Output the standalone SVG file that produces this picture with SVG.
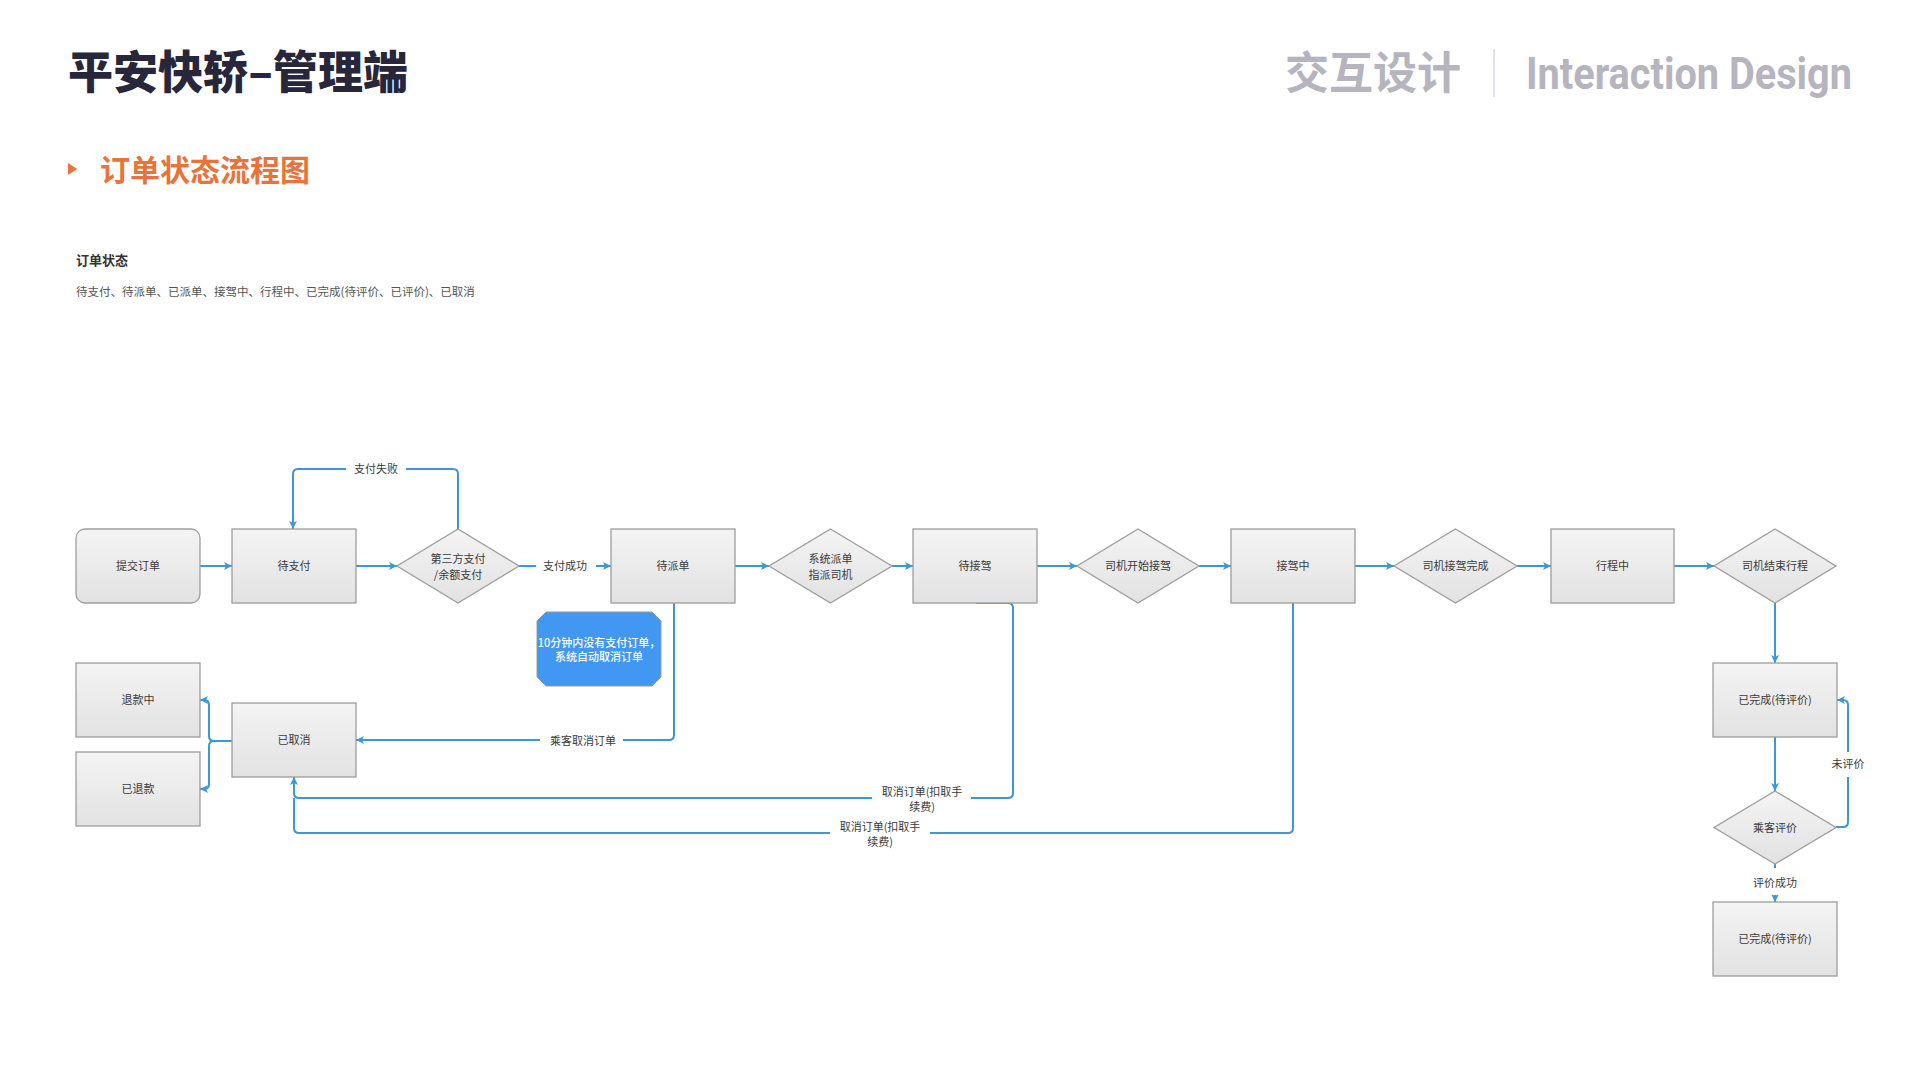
<svg xmlns="http://www.w3.org/2000/svg" width="1920" height="1080" viewBox="0 0 1920 1080">
  <defs>
    <linearGradient id="boxFill" x1="0" y1="0" x2="0" y2="1">
      <stop offset="0" stop-color="#f4f4f4"/>
      <stop offset="1" stop-color="#e2e2e2"/>
    </linearGradient>
    <marker id="arr" viewBox="0 0 10 10" refX="10" refY="5" markerWidth="8" markerHeight="11" markerUnits="userSpaceOnUse" orient="auto">
      <path d="M0,0 L10,5 L0,10 L2.5,5 z" fill="#3d97d3"/>
    </marker>
    <style>
      .cjk { font-family: "Noto Sans CJK SC", "Noto Sans", sans-serif; }
      .box { fill: url(#boxFill); stroke: #9d9d9d; stroke-width: 1.3; }
      .lbl { font-family: "Noto Sans CJK SC", "Noto Sans", sans-serif; font-size: 11px; fill: #3a3a3a; text-anchor: middle; }
      .note { font-family: "Noto Sans CJK SC", "Noto Sans", sans-serif; font-size: 11px; fill: #ffffff; text-anchor: middle; font-weight: 500; }
      .edge { fill: none; stroke: #3d97d3; stroke-width: 2; }
      .arrow { marker-end: url(#arr); }
      .gap { fill: #ffffff; }
    </style>
  </defs>

  <rect width="1920" height="1080" fill="#ffffff"/>

  <!-- page header -->
  <g id="header">
    <text x="68" y="89" class="cjk" font-size="45" font-weight="900" fill="#27263b" textLength="340" lengthAdjust="spacingAndGlyphs">平安快轿–管理端</text>
    <text x="1285" y="89" class="cjk" font-size="44" font-weight="700" fill="#b5b4bf">交互设计</text>
    <line x1="1494" y1="49" x2="1494" y2="97" stroke="#e2e2e8" stroke-width="2"/>
    <text x="1526" y="89" font-family="Roboto, 'Liberation Sans', sans-serif" font-size="45" font-weight="700" fill="#b5b4bf" textLength="326" lengthAdjust="spacingAndGlyphs">Interaction Design</text>
    <polygon points="68,163 77,169 68,175" fill="#e8743b"/>
    <text x="100" y="181" class="cjk" font-size="30" font-weight="700" fill="#e8743b">订单状态流程图</text>
    <text x="76" y="265" class="cjk" font-size="13" font-weight="700" fill="#333333">订单状态</text>
    <text x="76" y="296" class="cjk" font-size="11.5" fill="#555555">待支付、待派单、已派单、接驾中、行程中、已完成(待评价、已评价)、已取消</text>
  </g>

  <!-- connectors -->
  <g id="connectors">
    <path class="edge arrow" d="M200,566 H232"/>
    <path class="edge arrow" d="M356,566 H397"/>
    <path class="edge arrow" d="M519,566 H611"/>
    <path class="edge arrow" d="M735,566 H769"/>
    <path class="edge arrow" d="M892,566 H913"/>
    <path class="edge arrow" d="M1037,566 H1077"/>
    <path class="edge arrow" d="M1199,566 H1231"/>
    <path class="edge arrow" d="M1355,566 H1394"/>
    <path class="edge arrow" d="M1517,566 H1551"/>
    <path class="edge arrow" d="M1674,566 H1714"/>
    <path class="edge arrow" d="M1775,603 V663"/>
    <path class="edge arrow" d="M1775,737 V791"/>
    <path class="edge arrow" d="M1775,864 V902"/>
    <!-- payment failed loop -->
    <path class="edge arrow" d="M458,530 V474 Q458,469 453,469 H298 Q293,469 293,474 V529"/>
    <!-- not rated loop -->
    <path class="edge arrow" d="M1836,827 H1843 Q1848,827 1848,822 V705 Q1848,700 1843,700 H1837"/>
    <!-- passenger cancels while waiting for dispatch -->
    <path class="edge arrow" d="M674,603 V735 Q674,740 669,740 H356"/>
    <!-- cancel with fee, from 待接驾 -->
    <path class="edge arrow" d="M976,603 H1008 Q1013,603 1013,608 V793 Q1013,798 1008,798 H299 Q294,798 294,793 V777"/>
    <!-- cancel with fee, from 接驾中 -->
    <path class="edge" d="M1293,603 V828 Q1293,833 1288,833 H299 Q294,833 294,828 V798"/>
    <!-- refunds -->
    <path class="edge arrow" d="M232,741 H214 Q209,741 209,736 V705 Q209,700 204,700 H200"/>
    <path class="edge arrow" d="M214,741 Q209,741 209,746 V784 Q209,789 204,789 H200"/>

    <!-- labels -->
    <rect class="gap" x="346" y="462" width="60" height="14"/>
    <text class="lbl" x="376" y="473">支付失败</text>
    <rect class="gap" x="536" y="559" width="60" height="14"/>
    <text class="lbl" x="565" y="570">支付成功</text>
    <rect class="gap" x="540" y="734" width="83" height="14"/>
    <text class="lbl" x="583" y="745">乘客取消订单</text>
    <rect class="gap" x="872" y="794" width="99" height="8"/>
    <text class="lbl" x="922" y="796">取消订单(扣取手</text>
    <text class="lbl" x="922" y="811">续费)</text>
    <rect class="gap" x="830" y="829" width="100" height="8"/>
    <text class="lbl" x="880" y="831">取消订单(扣取手</text>
    <text class="lbl" x="880" y="846">续费)</text>
    <rect class="gap" x="1840" y="752" width="16" height="25"/>
    <text class="lbl" x="1848" y="768">未评价</text>
    <rect class="gap" x="1765" y="868" width="20" height="27"/>
    <text class="lbl" x="1775" y="887">评价成功</text>
  </g>

  <!-- nodes -->
  <g id="n-submit">
    <rect class="box" x="76" y="529" width="124" height="74" rx="9"/>
    <text class="lbl" x="138" y="570">提交订单</text>
  </g>
  <g id="n-topay">
    <rect class="box" x="232" y="529" width="124" height="74"/>
    <text class="lbl" x="294" y="570">待支付</text>
  </g>
  <g id="n-paymethod">
    <polygon class="box" points="458,529 519,566 458,603 397,566"/>
    <text class="lbl" x="458" y="563">第三方支付</text>
    <text class="lbl" x="458" y="579">/余额支付</text>
  </g>
  <g id="n-todispatch">
    <rect class="box" x="611" y="529" width="124" height="74"/>
    <text class="lbl" x="673" y="570">待派单</text>
  </g>
  <g id="n-timeout">
    <polygon points="546,612 652,612 661,621 661,677 652,686 546,686 537,677 537,621" fill="#4197f1" stroke="#9a9a9a" stroke-width="1"/>
    <text class="note" x="599" y="647">10分钟内没有支付订单，</text>
    <text class="note" x="599" y="661">系统自动取消订单</text>
  </g>
  <g id="n-dispatch">
    <polygon class="box" points="830.5,529 892,566 830.5,603 769,566"/>
    <text class="lbl" x="830.5" y="563">系统派单</text>
    <text class="lbl" x="830.5" y="579">指派司机</text>
  </g>
  <g id="n-topickup">
    <rect class="box" x="913" y="529" width="124" height="74"/>
    <text class="lbl" x="975" y="570">待接驾</text>
  </g>
  <g id="n-startpickup">
    <polygon class="box" points="1138,529 1199,566 1138,603 1077,566"/>
    <text class="lbl" x="1138" y="570">司机开始接驾</text>
  </g>
  <g id="n-pickingup">
    <rect class="box" x="1231" y="529" width="124" height="74"/>
    <text class="lbl" x="1293" y="570">接驾中</text>
  </g>
  <g id="n-pickupdone">
    <polygon class="box" points="1455.5,529 1517,566 1455.5,603 1394,566"/>
    <text class="lbl" x="1455.5" y="570">司机接驾完成</text>
  </g>
  <g id="n-ontrip">
    <rect class="box" x="1551" y="529" width="123" height="74"/>
    <text class="lbl" x="1612.5" y="570">行程中</text>
  </g>
  <g id="n-endtrip">
    <polygon class="box" points="1775,529 1836,566 1775,603 1714,566"/>
    <text class="lbl" x="1775" y="570">司机结束行程</text>
  </g>
  <g id="n-done1">
    <rect class="box" x="1713" y="663" width="124" height="74"/>
    <text class="lbl" x="1775" y="704">已完成(待评价)</text>
  </g>
  <g id="n-rate">
    <polygon class="box" points="1775,791 1836,827.5 1775,864 1714,827.5"/>
    <text class="lbl" x="1775" y="831.5">乘客评价</text>
  </g>
  <g id="n-done2">
    <rect class="box" x="1713" y="902" width="124" height="74"/>
    <text class="lbl" x="1775" y="943">已完成(待评价)</text>
  </g>
  <g id="n-cancelled">
    <rect class="box" x="232" y="703" width="124" height="74"/>
    <text class="lbl" x="294" y="744">已取消</text>
  </g>
  <g id="n-refunding">
    <rect class="box" x="76" y="663" width="124" height="74"/>
    <text class="lbl" x="138" y="704">退款中</text>
  </g>
  <g id="n-refunded">
    <rect class="box" x="76" y="752" width="124" height="74"/>
    <text class="lbl" x="138" y="793">已退款</text>
  </g>
</svg>
